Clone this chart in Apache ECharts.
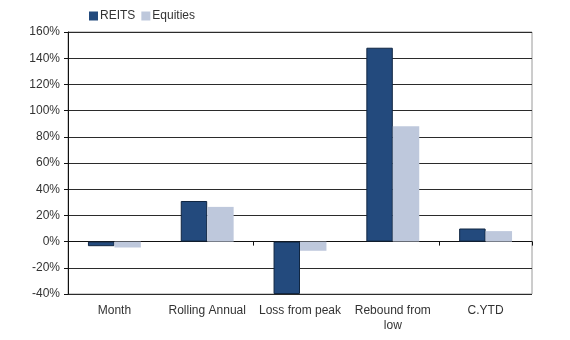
<!DOCTYPE html>
<html>
<head>
<meta charset="utf-8">
<script src="https://cdn.jsdelivr.net/npm/echarts@6/dist/echarts.min.js"></script>
<style>
html,body{margin:0;padding:0;background:#fff;}
#chart{width:570px;height:340px;}
</style>
</head>
<body>
<div id="chart"></div>
<script>
// Performance of REITs vs equities across measurement periods (%)
var categories = ['Month', 'Rolling Annual', 'Loss from peak', 'Rebound from\nlow', 'C.YTD'];
var reits = [-3.5, 31, -40, 148, 10];
var equities = [-4.5, 26.5, -7, 88, 8];
var yTicks = { min: -40, max: 160, step: 20 };

var chart = echarts.init(document.getElementById('chart'));
var font = '"Liberation Sans", Arial, sans-serif';

chart.setOption({
  animation: false,
  textStyle: { fontFamily: font },
  legend: {
    left: 84, top: 5,
    icon: 'rect',
    itemWidth: 9, itemHeight: 9, itemGap: 6,
    itemStyle: { borderWidth: 0 },
    textStyle: { fontSize: 12, color: '#333', fontFamily: font, padding: [0, 0, 0, -3] },
    data: ['REITS', 'Equities']
  },
  grid: {
    left: 68, right: 38, top: 32, bottom: 46,
    outerBoundsMode: 'none', containLabel: false,
    show: true, borderColor: '#9a9a9a', borderWidth: 1, backgroundColor: 'transparent'
  },
  xAxis: [
    {
      // category labels along the bottom edge of the plot
      type: 'category',
      data: categories,
      position: 'bottom',
      axisLine: { show: false, onZero: false },
      axisTick: { show: false },
      axisLabel: { interval: 0, fontSize: 12, color: '#333', lineHeight: 15, margin: 9, fontFamily: font }
    },
    {
      // zero line with category dividers
      type: 'category',
      data: categories,
      position: 'bottom',
      axisLine: { show: true, onZero: true, lineStyle: { color: '#111', width: 1 } },
      axisTick: { show: true, length: 4, lineStyle: { color: '#111' } },
      axisLabel: { show: false }
    }
  ],
  yAxis: {
    type: 'value',
    min: yTicks.min, max: yTicks.max, interval: yTicks.step,
    axisLine: { show: true, lineStyle: { color: '#111', width: 1 } },
    axisTick: { show: true, length: 4, lineStyle: { color: '#111' } },
    axisLabel: { formatter: '{value}%', fontSize: 12, color: '#333', margin: 8, fontFamily: font },
    splitLine: { lineStyle: { color: '#2b2b2b', width: 1 } }
  },
  series: [
    {
      name: 'REITS', type: 'bar', data: reits, xAxisIndex: 0,
      barGap: '0%', barCategoryGap: '43%',
      itemStyle: { color: '#234a7d', borderColor: '#102642', borderWidth: 1 }
    },
    {
      name: 'Equities', type: 'bar', data: equities, xAxisIndex: 0,
      itemStyle: { color: '#bec8dc' }
    }
  ]
});
</script>
</body>
</html>
